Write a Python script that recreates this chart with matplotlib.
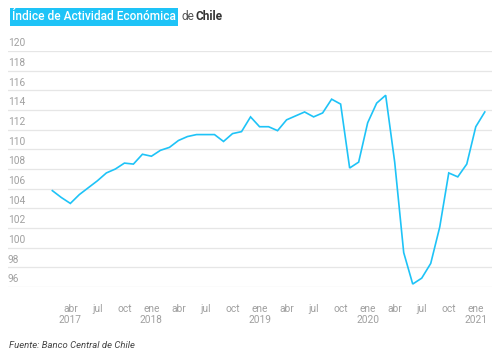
import matplotlib
matplotlib.use("Agg")
import matplotlib.pyplot as plt
import numpy as np

# IMACEC, feb 2017 - feb 2021
months = ["feb 2017", "mar 2017", "abr 2017", "may 2017", "jun 2017", "jul 2017",
          "ago 2017", "sep 2017", "oct 2017", "nov 2017", "dic 2017",
          "ene 2018", "feb 2018", "mar 2018", "abr 2018", "may 2018", "jun 2018",
          "jul 2018", "ago 2018", "sep 2018", "oct 2018", "nov 2018", "dic 2018",
          "ene 2019", "feb 2019", "mar 2019", "abr 2019", "may 2019", "jun 2019",
          "jul 2019", "ago 2019", "sep 2019", "oct 2019", "nov 2019", "dic 2019",
          "ene 2020", "feb 2020", "mar 2020", "abr 2020", "may 2020", "jun 2020",
          "jul 2020", "ago 2020", "sep 2020", "oct 2020", "nov 2020", "dic 2020",
          "ene 2021", "feb 2021"]
imacec = [105.8, 105.1, 104.5, 105.4, 106.1, 106.8, 107.6, 108.0, 108.6, 108.5, 109.5,
          109.3, 109.9, 110.2, 110.9, 111.3, 111.5, 111.5, 111.5, 110.8, 111.6, 111.8, 113.3,
          112.3, 112.3, 111.9, 113.0, 113.4, 113.8, 113.3, 113.7, 115.1, 114.6, 108.1, 108.7,
          112.7, 114.7, 115.5, 108.7, 99.5, 96.3, 96.9, 98.4, 102.1, 107.6, 107.2, 108.5,
          112.3, 113.8]

tick_pos = [2, 5, 8, 11, 14, 17, 20, 23, 26, 29, 32, 35, 38, 41, 44, 47]
tick_lab = ["abr\n2017", "jul", "oct", "ene\n2018", "abr", "jul", "oct", "ene\n2019",
            "abr", "jul", "oct", "ene\n2020", "abr", "jul", "oct", "ene\n2021"]
y_ticks = list(range(96, 121, 2))

W, H = 500, 357
fig = plt.figure(figsize=(W / 100, H / 100), dpi=100)
ax = fig.add_axes([8 / W, 1 - 287 / H, 484 / W, 236 / H])

x = np.arange(len(imacec))
ax.plot(x, imacec, color="#1ec3f7", lw=1.2, solid_joinstyle="miter", zorder=3)

ax.set_xlim(-4.92, 48.8)
ax.set_ylim(96, 120)
ax.set_yticks(y_ticks)
ax.set_yticklabels([])
ax.grid(axis="y", color="#e6e6e6", lw=0.9)
ax.set_axisbelow(True)
for s in ax.spines.values():
    s.set_visible(False)
ax.tick_params(axis="y", length=0)
ax.tick_params(axis="x", length=0, pad=12, labelsize=7.3, labelcolor="#a0a0a0")
ax.set_xticks(tick_pos)
ax.set_xticklabels(tick_lab, fontfamily="Roboto", linespacing=1.2)

for v in y_ticks:
    ax.annotate(str(v), (0, v), xycoords=("axes fraction", "data"),
                xytext=(0, 2), textcoords="offset points", ha="left", va="bottom",
                fontsize=7.3, color="#a0a0a0", family="Roboto")

# title
t = fig.text(12 / W, 1 - 17 / H, "Índice de Actividad Económica", fontsize=8.6,
             family="Roboto", fontweight="medium", color="white", va="center",
             bbox=dict(boxstyle="square,pad=0.18", fc="#1ec3f7", ec="none"))
fig.canvas.draw()
bb = t.get_window_extent()
fig.text(bb.x1 / W + 6 / W, 1 - 17 / H, "de", fontsize=8.6, family="Roboto",
         color="#555555", va="center")
fig.text(bb.x1 / W + 20 / W, 1 - 17 / H, "Chile", fontsize=8.6, family="Roboto",
         fontweight="bold", color="#333333", va="center")

fig.text(9 / W, 1 - 345 / H, "Fuente: Banco Central de Chile", fontsize=6.8,
         family="Roboto", style="italic", color="#444444", va="center")

fig.savefig("out.png", dpi=100)
